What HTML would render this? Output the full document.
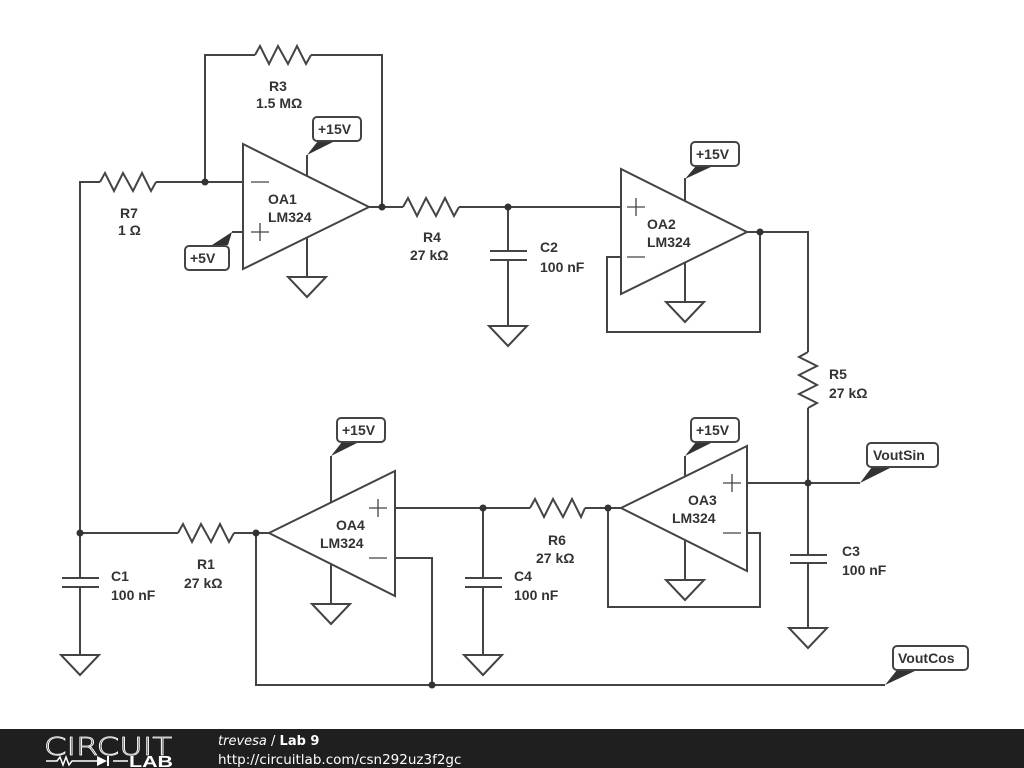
<!DOCTYPE html>
<html><head><meta charset="utf-8"><style>
html,body{margin:0;padding:0;background:#fff;width:1024px;height:768px;overflow:hidden}
svg text{font-family:"Liberation Sans",Arial,sans-serif;font-weight:bold;font-size:14px;fill:#333}
</style></head><body>
<svg width="1024" height="768" viewBox="0 0 1024 768" xmlns="http://www.w3.org/2000/svg">
<g fill="none" stroke="#444" stroke-width="2" stroke-linejoin="miter">
<polygon points="243,144 243,269 369,207"/>
<path d="M80,533 V182 H100"/>
<polyline points="100,182 105,173 114,191 123,173 133,191 142,173 151,191 156,182"/>
<path d="M156,182 H243 M205,182 V55 H255"/>
<polyline points="255,55 260,46 269,64 278,46 288,64 297,46 306,64 311,55"/>
<path d="M311,55 H382 V207 M369,207 H403"/>
<polyline points="403,207 408,198 417,216 426,198 436,216 445,198 454,216 459,207"/>
<path d="M459,207 H621"/>
<path d="M307,155 V176 M307,237 V277 M232,232 H243"/>
<polygon points="288,277 326,277 307,297"/>
<path d="M508,207 V251 M490,251 H527 M490,260 H527 M508,260 V326"/>
<polygon points="489,326 527,326 508,346"/>
<polygon points="621,169 621,294 747,232"/>
<path d="M621,257 H607 V332 H760 V232 M747,232 H808 V352"/>
<path d="M685,178 V201 M685,262 V302"/>
<polygon points="666,302 704,302 685,322"/>
<polyline points="808,352 799,357 817,366 799,375 817,385 799,394 817,403 808,408"/>
<path d="M808,408 V555 M790,555 H827 M790,563 H827 M808,563 V628 M747,483 H860"/>
<polygon points="789,628 827,628 808,648"/>
<polygon points="747,446 747,571 621,508"/>
<path d="M747,533 H760 V607 H608 V508 H621"/>
<path d="M685,456 V477 M685,540 V580"/>
<polygon points="666,580 704,580 685,600"/>
<path d="M608,508 H585 M530,508 H395"/>
<polyline points="530,508 535,499 544,517 553,499 563,517 572,499 581,517 585,508"/>
<path d="M483,508 V578 M465,578 H502 M465,587 H502 M483,587 V655"/>
<polygon points="464,655 502,655 483,675"/>
<polygon points="395,471 395,596 269,533"/>
<path d="M395,558 H432 V685 M256,533 H269 M256,533 V685 H885"/>
<path d="M331,456 V503 M331,564 V604"/>
<polygon points="312,604 350,604 331,624"/>
<path d="M80,533 H178 M234,533 H256"/>
<polyline points="178,533 183,524 192,542 201,524 211,542 220,524 229,542 234,533"/>
<path d="M80,533 V578 M62,578 H99 M62,587 H99 M80,587 V655"/>
<polygon points="61,655 99,655 80,675"/>
<path d="M251,182 H269 M251,232 H269 M260,223 V241" stroke-width="1.3"/>
<path d="M627,207 H645 M636,198 V216 M627,257 H645" stroke-width="1.3"/>
<path d="M723,483 H741 M732,474 V492 M723,533 H741" stroke-width="1.3"/>
<path d="M369,508 H387 M378,499 V517 M369,558 H387" stroke-width="1.3"/>
</g>
<g fill="#333">
<circle cx="205" cy="182" r="3.5"/><circle cx="382" cy="207" r="3.5"/><circle cx="508" cy="207" r="3.5"/>
<circle cx="760" cy="232" r="3.5"/><circle cx="808" cy="483" r="3.5"/><circle cx="608" cy="508" r="3.5"/>
<circle cx="483" cy="508" r="3.5"/><circle cx="256" cy="533" r="3.5"/><circle cx="80" cy="533" r="3.5"/>
<circle cx="432" cy="685" r="3.5"/>
<polygon points="307,155 318,141 335,141"/>
<polygon points="685,179 696,166 713,166"/>
<polygon points="685,456 696,442 713,442"/>
<polygon points="331,456 342,442 359,442"/>
<polygon points="232,232 212,245 228,245"/>
<polygon points="860,483 872,467 892,467"/>
<polygon points="885,685 897,670 917,670"/>
</g>
<g fill="#fff" stroke="#444" stroke-width="2">
<rect x="313" y="117" width="48" height="24" rx="4"/>
<rect x="691" y="142" width="48" height="24" rx="4"/>
<rect x="691" y="418" width="48" height="24" rx="4"/>
<rect x="337" y="418" width="48" height="24" rx="4"/>
<rect x="185" y="246" width="44" height="24" rx="4"/>
<rect x="867" y="443" width="71" height="24" rx="4"/>
<rect x="893" y="646" width="75" height="24" rx="4"/>
</g>
<text x="318" y="134">+15V</text>
<text x="696" y="159">+15V</text>
<text x="696" y="435">+15V</text>
<text x="342" y="435">+15V</text>
<text x="190" y="263">+5V</text>
<text x="873" y="460">VoutSin</text>
<text x="898" y="663">VoutCos</text>
<text x="269" y="91">R3</text><text x="256" y="108">1.5 MΩ</text>
<text x="120" y="218">R7</text><text x="118" y="235">1 Ω</text>
<text x="268" y="204">OA1</text><text x="268" y="222">LM324</text>
<text x="423" y="242">R4</text><text x="410" y="260">27 kΩ</text>
<text x="540" y="252">C2</text><text x="540" y="272">100 nF</text>
<text x="647" y="229">OA2</text><text x="647" y="247">LM324</text>
<text x="829" y="379">R5</text><text x="829" y="398">27 kΩ</text>
<text x="688" y="505">OA3</text><text x="672" y="523">LM324</text>
<text x="842" y="556">C3</text><text x="842" y="575">100 nF</text>
<text x="548" y="545">R6</text><text x="536" y="563">27 kΩ</text>
<text x="514" y="581">C4</text><text x="514" y="600">100 nF</text>
<text x="336" y="530">OA4</text><text x="320" y="548">LM324</text>
<text x="197" y="569">R1</text><text x="184" y="588">27 kΩ</text>
<text x="111" y="581">C1</text><text x="111" y="600">100 nF</text>
<rect x="0" y="729" width="1024" height="39" fill="#1f1f1f"/>
<text x="44" y="755" textLength="128" lengthAdjust="spacingAndGlyphs" style="font-family:'DejaVu Sans',sans-serif;font-weight:200;font-size:25px;fill:none;stroke:#fff;stroke-width:0.8">CIRCUIT</text>
<path d="M46,761 H57 L60,757 63,765 66,757 69,765 72,761 H97 M113,761 H128" stroke="#fff" stroke-width="1.5" fill="none"/>
<polygon points="97,756 97,766 107,761" fill="#fff"/>
<path d="M108,756 V766" stroke="#fff" stroke-width="2"/>
<text x="129" y="767" textLength="44" lengthAdjust="spacingAndGlyphs" style="font-size:16px;font-weight:900;fill:#fff">LAB</text>
<text x="218" y="745" style="font-family:'DejaVu Sans',sans-serif;font-size:13px;fill:#fff"><tspan style="font-style:italic;font-weight:normal">trevesa</tspan><tspan style="font-weight:normal"> / </tspan>Lab 9</text>
<text x="218" y="764" style="font-family:'DejaVu Sans',sans-serif;font-weight:normal;font-size:13.5px;fill:#fff">http://circuitlab.com/csn292uz3f2gc</text>
</svg>
</body></html>
